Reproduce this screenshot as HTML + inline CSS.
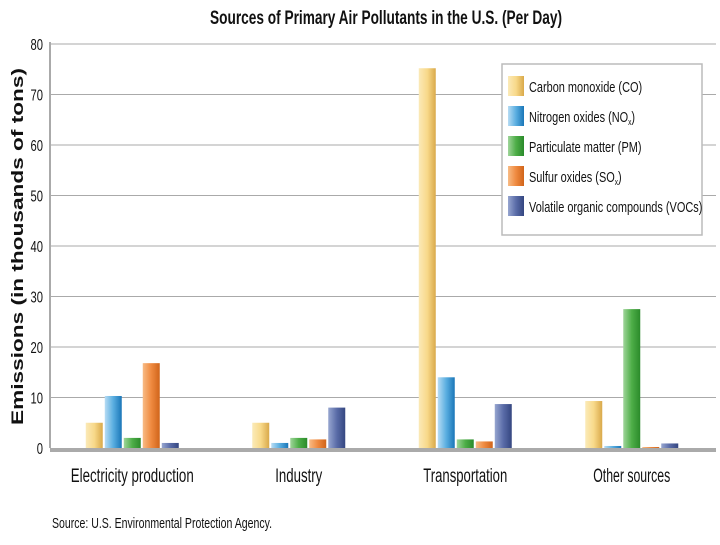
<!DOCTYPE html>
<html><head><meta charset="utf-8"><style>
body{margin:0;background:#fff;}
svg text{font-family:"Liberation Sans",sans-serif;fill:#111;}
</style></head><body>
<svg width="720" height="540" xmlns="http://www.w3.org/2000/svg">
<defs>
<linearGradient id="g0" x1="0" x2="1"><stop offset="0" stop-color="#fbeab8"/><stop offset="0.5" stop-color="#f8d98a"/><stop offset="1" stop-color="#d9a94a"/></linearGradient>
<linearGradient id="g1" x1="0" x2="1"><stop offset="0" stop-color="#b7dcf4"/><stop offset="0.5" stop-color="#5aaee0"/><stop offset="1" stop-color="#1a76b8"/></linearGradient>
<linearGradient id="g2" x1="0" x2="1"><stop offset="0" stop-color="#9fd59a"/><stop offset="0.5" stop-color="#4eae48"/><stop offset="1" stop-color="#2a8a2a"/></linearGradient>
<linearGradient id="g3" x1="0" x2="1"><stop offset="0" stop-color="#f8bb85"/><stop offset="0.5" stop-color="#ef8a40"/><stop offset="1" stop-color="#d0641a"/></linearGradient>
<linearGradient id="g4" x1="0" x2="1"><stop offset="0" stop-color="#97a6d0"/><stop offset="0.5" stop-color="#5a6ca8"/><stop offset="1" stop-color="#344680"/></linearGradient>
</defs>
<text x="210" y="24" textLength="352" lengthAdjust="spacingAndGlyphs" font-size="19" font-weight="bold">Sources of Primary Air Pollutants in the U.S. (Per Day)</text>
<g id="grid"></g>
<g id="bars"></g>
<text transform="translate(23,425) rotate(-90)" textLength="357" lengthAdjust="spacingAndGlyphs" font-size="17" font-weight="bold">Emissions (in thousands of tons)</text>
<g>
<rect x="502" y="64" width="200" height="171" fill="#fff" stroke="#bbb" stroke-width="1.5"/>
</g>
<g id="legend"></g>
<text x="52" y="528" textLength="220" lengthAdjust="spacingAndGlyphs" font-size="15">Source: U.S. Environmental Protection Agency.</text>
</svg>
<script>
const categories=["Electricity production","Industry","Transportation","Other sources"];
const seriesNames=["Carbon monoxide (CO)","Nitrogen oxides (NOx)","Particulate matter (PM)","Sulfur oxides (SOx)","Volatile organic compounds (VOCs)"];
const coValues=[5,5,75.2,9.3];
const noxValues=[10.3,1,14,0.4];
const pmValues=[2,2,1.7,27.5];
const soxValues=[16.8,1.7,1.3,0.2];
const vocValues=[1,8,8.7,0.9];
const yTicks=[0,10,20,30,40,50,60,70,80];
const series=[coValues,noxValues,pmValues,soxValues,vocValues];
const labelWidths=[123,47,84,77];
const NS="http://www.w3.org/2000/svg";
const x0=50,x1=716,y0=448,yTop=44;
const yScale=v=>y0-(v/80)*(y0-yTop);
const groupW=(x1-x0)/categories.length;
const xCenter=i=>x0+groupW*(i+0.5)-1;
function mk(t,a,p){const e=document.createElementNS(NS,t);for(const k in a)e.setAttribute(k,a[k]);p.appendChild(e);return e;}
const grid=document.getElementById('grid');
yTicks.forEach(t=>{
  if(t>0){const l=mk('line',{x1:x0,x2:x1,y1:yScale(t),y2:yScale(t),stroke:'#aaa','stroke-width':1},grid);
  
  }
  const tx=mk('text',{x:43,y:yScale(t)+6,'text-anchor':'end','font-size':16,transform:'translate(43 0) scale(0.7 1) translate(-43 0)'},grid);tx.textContent=t;
  
  
});
const ax=mk('line',{x1:x0,x2:x0,y1:yTop-2,y2:y0,stroke:'#aaa','stroke-width':2},grid);


const bars=document.getElementById('bars');
const bw=17,step=19;
categories.forEach((c,i)=>{
  series.forEach((s,j)=>{
    const x=xCenter(i)+(j-2)*step-bw/2;
    const r=mk('rect',{x:x,y:yScale(s[i]),width:bw,height:y0-yScale(s[i]),fill:'url(#g'+j+')'},bars);
    
    
  });
  const t=mk('text',{x:xCenter(i)-labelWidths[i]/2,y:482,'font-size':19,textLength:labelWidths[i],lengthAdjust:'spacingAndGlyphs'},bars);t.textContent=c;
  
  
});
const base=mk('line',{x1:x0,x2:x1,y1:y0+2,y2:y0+2,stroke:'#aaa','stroke-width':4},bars);


const lg=document.getElementById('legend');
seriesNames.forEach((n,j)=>{
  const y=76+j*30;
  const r=mk('rect',{x:508,y:y,width:16,height:20,fill:'url(#g'+j+')'},lg);
  
  
  const g=mk('g',{transform:'translate(529 0) scale(0.73 1)'},lg);
  const t=mk('text',{x:0,y:y+16,'font-size':15},g);
  
  
  const m=n.match(/^(.*\()(NO|SO)x\)$/);
  if(m){t.textContent=m[1]+m[2];const sb=mk('tspan',{'font-size':9,dy:3},t);sb.textContent='x';const cl=mk('tspan',{dy:-3},t);cl.textContent=')';}
  else t.textContent=n;
});
</script>
</body></html>
